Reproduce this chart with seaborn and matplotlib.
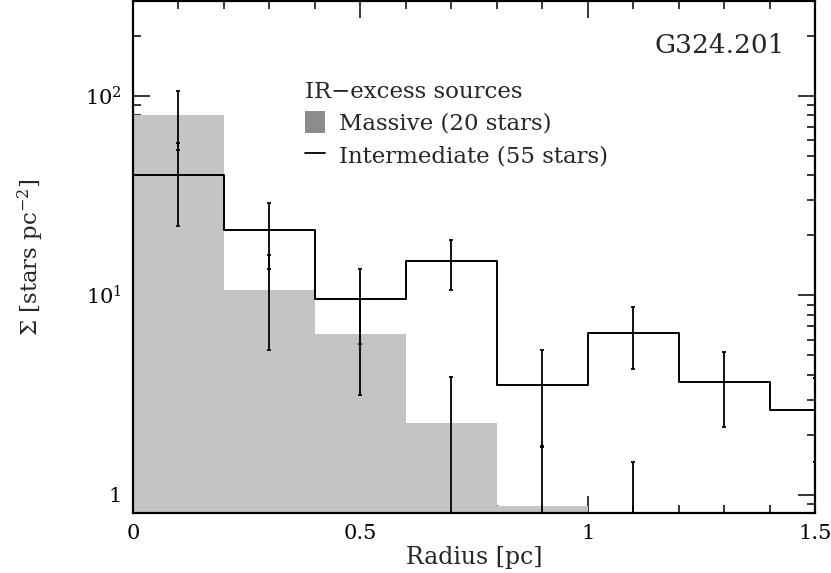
import numpy as np
import pandas as pd
import matplotlib
matplotlib.use("Agg")
import matplotlib.pyplot as plt
import seaborn as sns
from matplotlib.patches import Patch
from matplotlib.lines import Line2D
from matplotlib.ticker import FixedLocator, FuncFormatter, MultipleLocator, LogLocator, NullFormatter

# ---- data ----
bin_edges = [0.0, 0.2, 0.4, 0.6, 0.8, 1.0, 1.2, 1.4, 1.6]
bin_centers = [0.1, 0.3, 0.5, 0.7, 0.9, 1.1, 1.3, 1.5]
massive = [80.0, 10.6, 6.4, 2.28, 0.88, 0.0, 0.0, 0.0]
massive_err = [26.0, 5.3, 3.23, 1.62, 0.88, 1.45, np.nan, np.nan]
intermediate = [40.2, 21.3, 9.6, 14.8, 3.54, 6.5, 3.69, 2.66]
intermediate_err = [18.0, 7.7, 3.9, 4.1, 1.8, 2.24, 1.5, 1.2]
legend_title = "IR\u2212excess sources"
label_massive = "Massive (20 stars)"
label_inter = "Intermediate (55 stars)"
field_name = "G324.201"

sns.set_style("ticks")
plt.rcParams["font.family"] = ["DejaVu Serif"]
plt.rcParams["mathtext.fontset"] = "dejavuserif"

df = pd.DataFrame({"r": bin_centers, "massive": massive, "inter": intermediate})

fig = plt.figure(figsize=(8.31, 5.73), dpi=100)
ax = fig.add_axes([0.160, 0.105, 0.821, 0.893])

sns.histplot(data=df, x="r", weights="massive", bins=bin_edges, element="step",
             fill=True, color="#c4c4c4", alpha=1.0, linewidth=0, ax=ax)
sns.histplot(data=df, x="r", weights="inter", bins=bin_edges, element="step",
             fill=False, color="black", linewidth=1.4, ax=ax)

ax.errorbar(bin_centers, massive, yerr=massive_err, fmt="none", ecolor="black",
            elinewidth=1.3, capsize=1.5, capthick=1.3)
ax.errorbar(bin_centers, intermediate, yerr=intermediate_err, fmt="none", ecolor="black",
            elinewidth=1.3, capsize=1.5, capthick=1.3)

ax.set_yscale("log", nonpositive="clip")
ax.set_xlim(0, 1.5)
ax.set_ylim(0.81, 300)

ax.xaxis.set_major_locator(FixedLocator([0, 0.5, 1.0, 1.5]))
ax.xaxis.set_minor_locator(MultipleLocator(0.1))
ax.xaxis.set_major_formatter(FuncFormatter(lambda v, p: {0: "0", 0.5: "0.5", 1.0: "1", 1.5: "1.5"}.get(round(v, 2), "")))
ax.yaxis.set_major_locator(FixedLocator([1, 10, 100]))
ax.yaxis.set_minor_locator(LogLocator(base=10, subs=np.arange(2, 10)))
ax.yaxis.set_minor_formatter(NullFormatter())
ax.yaxis.set_major_formatter(FuncFormatter(lambda v, p: "1" if abs(v - 1) < 1e-6 else r"$10^{%d}$" % round(np.log10(v))))

ax.tick_params(which="both", direction="in", top=True, right=True, width=1.1, colors="black",
               labelsize=15, pad=8)
ax.tick_params(which="major", length=12)
ax.tick_params(which="minor", length=6)
for s in ax.spines.values():
    s.set_linewidth(1.6)
    s.set_color("black")

ax.set_xlabel("Radius [pc]", fontsize=17, labelpad=2)
ax.set_ylabel(r"$\Sigma$ [stars pc$^{-2}$]", fontsize=16.5, labelpad=28)

ax.text(0.956, 0.914, field_name, transform=ax.transAxes, ha="right", va="center", fontsize=19)

handles = [Patch(facecolor="#8c8c8c", edgecolor="none"),
           Line2D([], [], color="black", linewidth=1.3)]
leg = ax.legend(handles, [label_massive, label_inter], title=legend_title,
                loc="upper left", bbox_to_anchor=(0.238, 0.862), frameon=False,
                fontsize=16.5, title_fontsize=16.5, handlelength=0.9, handleheight=1.1,
                handletextpad=0.6, labelspacing=0.36, alignment="left", borderaxespad=0)

fig.savefig("out.png", dpi=100)
